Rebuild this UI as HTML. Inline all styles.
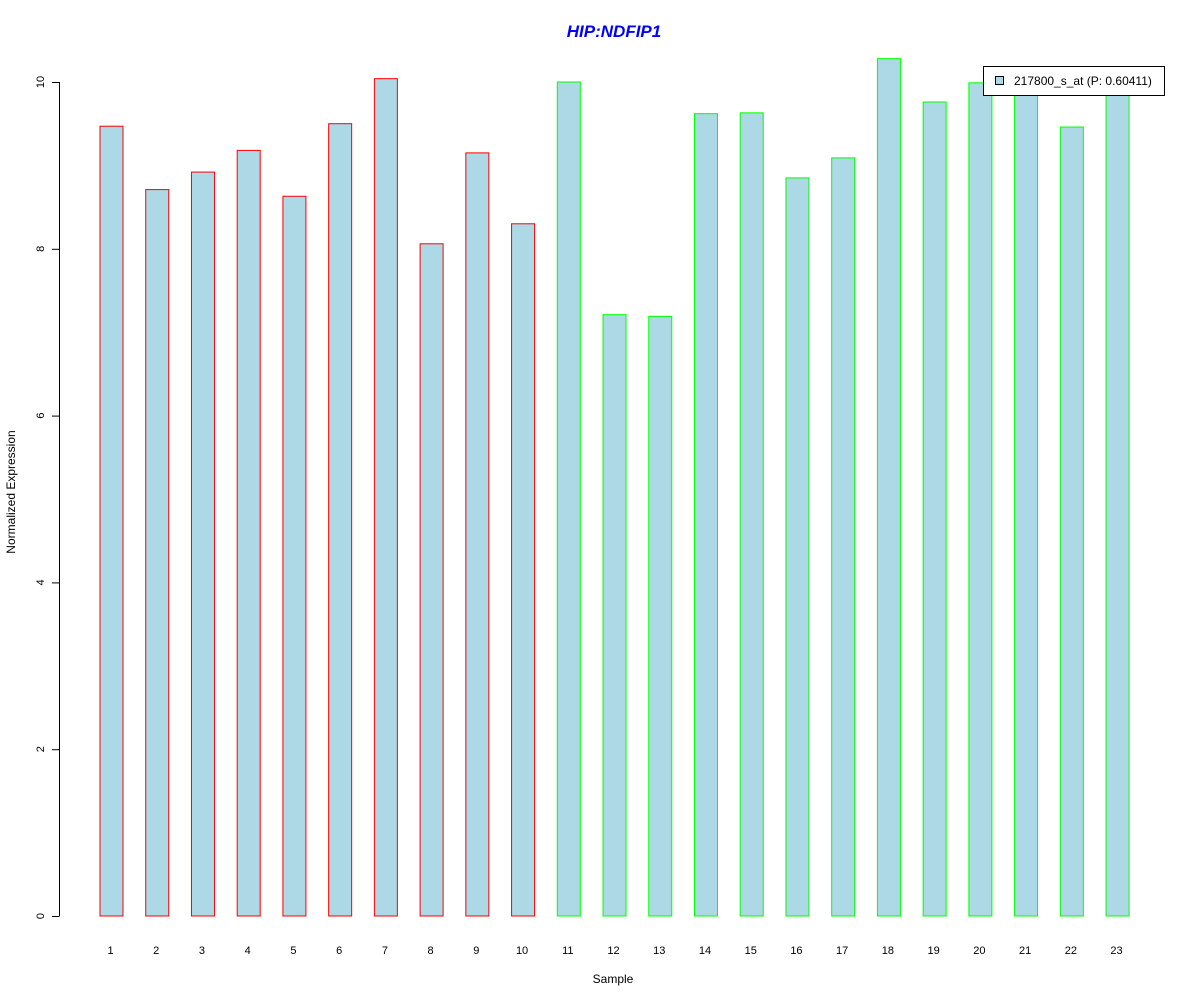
<!DOCTYPE html>
<html><head><meta charset="utf-8"><style>
body{margin:0;background:#fff}
svg{display:block;font-family:"Liberation Sans",Arial,sans-serif}
</style></head><body>
<svg id="chart" width="1200" height="1000">
<text x="614" y="37" text-anchor="middle" font-size="17" font-weight="bold" font-style="italic" fill="#0000ff">HIP:NDFIP1</text>
<text x="613" y="983" text-anchor="middle" font-size="12">Sample</text>
<text transform="translate(15,492) rotate(-90)" text-anchor="middle" font-size="12">Normalized Expression</text>
<g id="bars"></g>
<g id="yaxis"></g>
<g id="xlabels"></g>
<g>
<rect x="983.5" y="66.5" width="181" height="29" fill="#fff" stroke="#000"/>
<rect x="995.5" y="76.5" width="8" height="8" fill="#add8e6" stroke="#000"/>
<text x="1014" y="85" font-size="12">217800_s_at (P: 0.60411)</text>
</g>
</svg>
<script>
const categories=["1","2","3","4","5","6","7","8","9","10","11","12","13","14","15","16","17","18","19","20","21","22","23"];
const values=[9.47,8.71,8.92,9.18,8.63,9.50,10.04,8.06,9.15,8.30,10.00,7.21,7.19,9.62,9.63,8.85,9.09,10.28,9.76,9.99,9.90,9.46,9.90];
const groups=["A","A","A","A","A","A","A","A","A","A","B","B","B","B","B","B","B","B","B","B","B","B","B"];
const yTicks=[0,2,4,6,8,10];
const NS="http://www.w3.org/2000/svg";
const y=v=>916-v*83.4;
const xc=i=>111.5+i*45.73;
const bars=document.getElementById('bars');
values.forEach((v,i)=>{
 const r=document.createElementNS(NS,'rect');
 r.setAttribute('x',xc(i)-11.5);r.setAttribute('y',y(v));
 r.setAttribute('width',23);r.setAttribute('height',y(0)-y(v));
 r.setAttribute('fill','#add8e6');
 r.setAttribute('stroke',groups[i]==="A"?'#ff0000':'#00ff00');
 
 
 bars.appendChild(r);
 const t=document.createElementNS(NS,'text');
 t.setAttribute('x',xc(i)-1);t.setAttribute('y',954);
 t.setAttribute('text-anchor','middle');t.setAttribute('font-size','11');
 t.textContent=categories[i];
 
 
 document.getElementById('xlabels').appendChild(t);
});
const ya=document.getElementById('yaxis');
const ax=document.createElementNS(NS,'line');
ax.setAttribute('x1',59.5);ax.setAttribute('x2',59.5);ax.setAttribute('y1',y(0));ax.setAttribute('y2',y(10));ax.setAttribute('stroke','#000');


ya.appendChild(ax);
yTicks.forEach(v=>{
 const l=document.createElementNS(NS,'line');
 l.setAttribute('x1',52);l.setAttribute('x2',59.5);l.setAttribute('y1',y(v)+0.5);l.setAttribute('y2',y(v)+0.5);l.setAttribute('stroke','#000');
 
 
 ya.appendChild(l);
 const t=document.createElementNS(NS,'text');
 t.setAttribute('transform','translate(44,'+y(v)+') rotate(-90)');
 t.setAttribute('text-anchor','middle');t.setAttribute('font-size','11');
 t.textContent=v;
 
 
 ya.appendChild(t);
});
</script>
</body></html>
